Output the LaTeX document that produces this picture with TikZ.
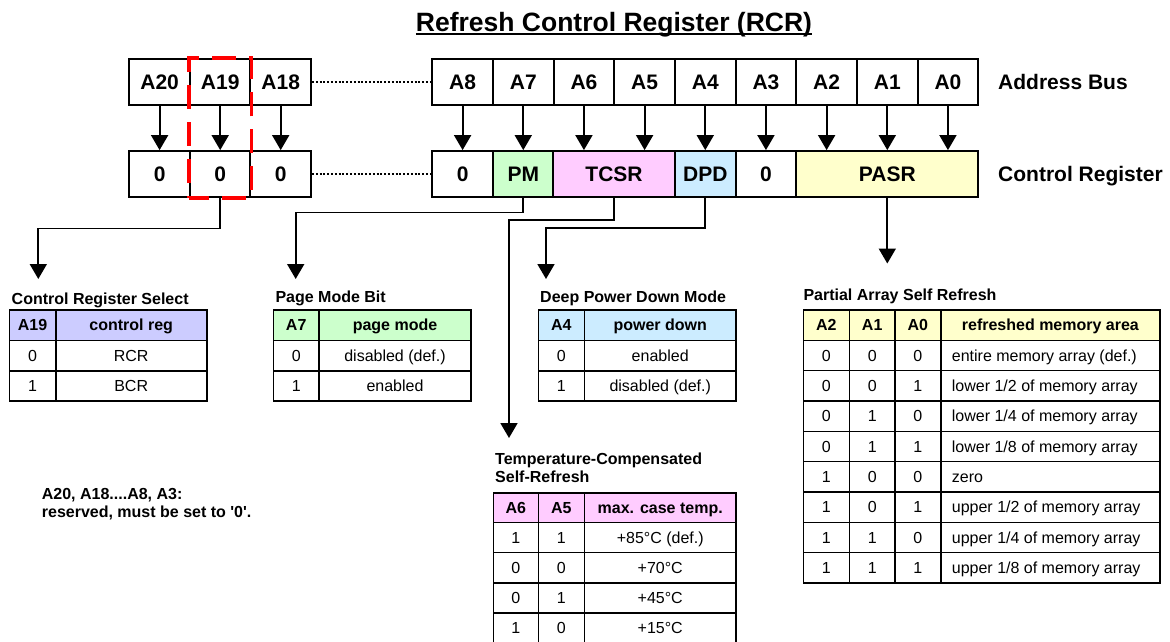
\documentclass[tikz,border=0pt]{standalone}
\usepackage{fontspec}
\setmainfont{Liberation Sans}
\usetikzlibrary{arrows.meta,fit}
\definecolor{crsc}{RGB}{204,204,255}
\definecolor{pmc}{RGB}{204,255,204}
\definecolor{tcc}{RGB}{255,204,255}
\definecolor{dpc}{RGB}{204,236,255}
\definecolor{pac}{RGB}{255,255,204}
\newcommand\parow[5]{%
  \node[cell] (pa#1a) at (826.3,{325.17+30.33*#1}) {#2};
  \node[cell] (pa#1b) at (872.2,{325.17+30.33*#1}) {#3};
  \node[cell] (pa#1c) at (917.9,{325.17+30.33*#1}) {#4};
  \node[cell,anchor=west] (pa#1d) at (951.7,{325.17+30.33*#1}) {#5};}
\begin{document}
\begin{tikzpicture}[x=1pt,y=-1pt,
  reg/.style={draw, line width=1.8pt, minimum width=60.7pt, minimum height=46pt, inner sep=0pt,
    text height=15pt, text depth=0pt, font=\fontsize{21}{24}\selectfont\bfseries},
  conn/.style={line width=1.8pt, -{Triangle[width=17pt,length=15pt]}},
  tab/.style={line width=1.6pt},
  cell/.style={inner sep=0pt, text height=11.5pt, text depth=0pt, font=\fontsize{16}{19}\selectfont},
  hcell/.style={cell, font=\fontsize{16}{19}\selectfont\bfseries},
  ttl/.style={anchor=base west, inner sep=0pt, font=\fontsize{16}{18.7}\selectfont\bfseries, align=left},
  side/.style={anchor=west, inner sep=0pt, text height=15pt, text depth=0pt, font=\fontsize{21}{24}\selectfont\bfseries},
  dots/.style={line width=2pt, dash pattern=on 2pt off 1.8pt}]
\useasboundingbox (0,0) rectangle (1170,641);

% title
\node[anchor=base, inner sep=0pt, font=\fontsize{26.5}{30}\selectfont\bfseries] (title) at (614,31.5) {Refresh Control Register (RCR)};
\draw[line width=1.8pt] ([yshift=-2.5pt]title.base west) -- ([yshift=-2.5pt]title.base east);

% address bus row
\node[reg] (a20) at (159.6,82) {A20};
\node[reg] (a19) at (220.2,82) {A19};
\node[reg] (a18) at (280.7,82) {A18};
\foreach \n [evaluate=\n as \x using {462.6+60.67*(8-\n)}] in {8,7,6,5,4,3,2,1,0}
  \node[reg] (a\n) at (\x,82) {A\n};

% control register row
\node[reg] (r20) at (159.6,174) {0};
\node[reg] (r19) at (220.2,174) {0};
\node[reg] (r18) at (280.7,174) {0};
\node[reg] (r8) at (462.6,174) {0};
\node[reg, fill=pmc] (pm) at (523.3,174) {PM};
\node[reg, fill=tcc, minimum width=121.3pt] (tcsr) at (614.0,174) {TCSR};
\node[reg, fill=dpc] (dpd) at (705.3,174) {DPD};
\node[reg] (r3) at (766.0,174) {0};
\node[reg, fill=pac, minimum width=182pt] (pasr) at (887.3,174) {PASR};

\node[side] (ab) at (998,82) {Address Bus};
\node[side] (cr) at (998,174) {Control Register};

\draw[dots] (a18.east) -- (a8.west);
\draw[dots] (r18.east) -- (r8.west);

% vertical arrows
\foreach \n/\t in {20/r20,19/r19,18/r18,8/r8,7/pm,6/tcsr,5/tcsr,4/dpd,3/r3,2/pasr,1/pasr,0/pasr}
  \draw[conn] (a\n.south) -- (a\n.south |- \t.north);

% selection box
\node[fit=(a19)(r19), inner sep=0pt, draw=red, line width=3.3pt, dash pattern=on 24pt off 13pt, dash phase=4pt] (sel) {};

% connectors to tables
\coordinate (e19) at (38.3,279);
\coordinate (epm) at (295.7,279);
\coordinate (etc) at (509,438);
\coordinate (edp) at (546,279);
\coordinate (epa) at (887.3,263.5);
\draw[conn] (r19.south) -- ++(0,30.5) -| (e19);
\draw[conn] (pm.south) -- ++(0,14.5) -| (epm);
\draw[conn] (tcsr.south) -- ++(0,22) -| (etc);
\draw[conn] (dpd.south) -- ++(0,30) -| (edp);
\draw[conn] (pasr.south) -- (epa);

% Control Register Select table
\node[ttl] (crst) at (11.5,304) {Control Register Select};
\fill[crsc] (9.3,310) rectangle (206.7,340.3);
\draw[tab] (9.3,310) rectangle (206.7,401) (55.7,310) -- (55.7,401)
  (9.3,340.3) -- (206.7,340.3) (9.3,370.7) -- (206.7,370.7);
\node[hcell] (crsh1) at (32.5,325.2) {A19};
\node[hcell] (crsh2) at (131.2,325.2) {control reg};
\node[cell] (crs1a) at (32.5,355.5) {0};
\node[cell] (crs1b) at (131.2,355.5) {RCR};
\node[cell] (crs2a) at (32.5,385.8) {1};
\node[cell] (crs2b) at (131.2,385.8) {BCR};

% Page Mode Bit table
\node[ttl] (pmt) at (275.3,302) {Page Mode Bit};
\fill[pmc] (273.3,310) rectangle (471,340.3);
\draw[tab] (273.3,310) rectangle (471,401) (319,310) -- (319,401)
  (273.3,340.3) -- (471,340.3) (273.3,370.7) -- (471,370.7);
\node[hcell] (pmh1) at (296.2,325.2) {A7};
\node[hcell] (pmh2) at (395,325.2) {page mode};
\node[cell] (pm1a) at (296.2,355.5) {0};
\node[cell] (pm1b) at (395,355.5) {disabled (def.)};
\node[cell] (pm2a) at (296.2,385.8) {1};
\node[cell] (pm2b) at (395,385.8) {enabled};

% Deep Power Down table
\node[ttl] (dpt) at (540,302) {Deep Power Down Mode};
\fill[dpc] (538.3,310) rectangle (736,340.3);
\draw[tab] (538.3,310) rectangle (736,401) (584.3,310) -- (584.3,401)
  (538.3,340.3) -- (736,340.3) (538.3,370.7) -- (736,370.7);
\node[hcell] (dph1) at (561.3,325.2) {A4};
\node[hcell] (dph2) at (660.2,325.2) {power down};
\node[cell] (dp1a) at (561.3,355.5) {0};
\node[cell] (dp1b) at (660.2,355.5) {enabled};
\node[cell] (dp2a) at (561.3,385.8) {1};
\node[cell] (dp2b) at (660.2,385.8) {disabled (def.)};

% TCSR table
\node[ttl] (tct) at (495,482.7) {Temperature-Compensated\\Self-Refresh};
\fill[tcc] (493.3,492.7) rectangle (736,522.3);
\draw[tab] (493.3,492.7) rectangle (736,643.1) (538.3,492.7) -- (538.3,643.1) (584.3,492.7) -- (584.3,643.1)
  (493.3,522.3) -- (736,522.3) (493.3,552.5) -- (736,552.5) (493.3,582.7) -- (736,582.7) (493.3,612.9) -- (736,612.9);
\node[hcell] (tch1) at (515.8,507.5) {A6};
\node[hcell] (tch2) at (561.3,507.5) {A5};
\node[hcell] (tch3) at (660.2,507.5) {max. case temp.};
\node[cell] (tc1a) at (515.8,537.4) {1};
\node[cell] (tc1b) at (561.3,537.4) {1};
\node[cell] (tc1c) at (660.2,537.4) {+85°C (def.)};
\node[cell] (tc2a) at (515.8,567.6) {0};
\node[cell] (tc2b) at (561.3,567.6) {0};
\node[cell] (tc2c) at (660.2,567.6) {+70°C};
\node[cell] (tc3a) at (515.8,597.8) {0};
\node[cell] (tc3b) at (561.3,597.8) {1};
\node[cell] (tc3c) at (660.2,597.8) {+45°C};
\node[cell] (tc4a) at (515.8,628) {1};
\node[cell] (tc4b) at (561.3,628) {0};
\node[cell] (tc4c) at (660.2,628) {+15°C};

% PASR table
\node[ttl] (pat) at (803.3,300.5) {Partial Array Self Refresh};
\fill[pac] (803.3,310) rectangle (1160,340.33);
\draw[tab] (803.3,310) rectangle (1160,583)
  (849.3,310) -- (849.3,583) (895,310) -- (895,583) (940.7,310) -- (940.7,583);
\foreach \k in {1,...,8} \draw[tab] (803.3,{310+30.33*\k}) -- (1160,{310+30.33*\k});
\node[hcell] (pah1) at (826.3,325.17) {A2};
\node[hcell] (pah2) at (872.2,325.17) {A1};
\node[hcell] (pah3) at (917.9,325.17) {A0};
\node[hcell] (pah4) at (1050.4,325.17) {refreshed memory area};
\parow{1}{0}{0}{0}{entire memory array (def.)}
\parow{2}{0}{0}{1}{lower 1/2 of memory array}
\parow{3}{0}{1}{0}{lower 1/4 of memory array}
\parow{4}{0}{1}{1}{lower 1/8 of memory array}
\parow{5}{1}{0}{0}{zero}
\parow{6}{1}{0}{1}{upper 1/2 of memory array}
\parow{7}{1}{1}{0}{upper 1/4 of memory array}
\parow{8}{1}{1}{1}{upper 1/8 of memory array}

% note
\node[ttl] (note) at (41.7,517.7) {A20, A18....A8, A3:\\reserved, must be set to \textquotesingle0\textquotesingle.};
\end{tikzpicture}
\end{document}
